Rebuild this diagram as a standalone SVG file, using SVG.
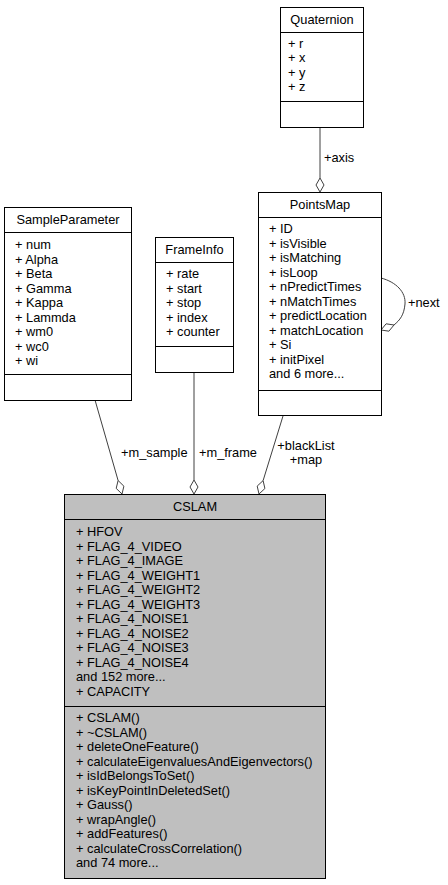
<svg xmlns="http://www.w3.org/2000/svg" width="448" height="885" viewBox="0 0 448 885">
<style>
text{font-family:"Liberation Sans",Arial,sans-serif;font-size:12.8px;fill:#000}
.box{fill:#fff;stroke:#000;stroke-width:1}
.main{fill:#bfbfbf;stroke:#000;stroke-width:1}
.sep{stroke:#000;stroke-width:1}
.edge{fill:none;stroke:#404040;stroke-width:1}
.dia{fill:#fff;stroke:#404040;stroke-width:1}
.c{text-anchor:middle}
</style>
<rect width="448" height="885" fill="#fff"/>
<g id="connectors">
<line class="edge" x1="320" y1="127" x2="320" y2="178"/>
<polygon class="dia" points="320,192 316,185 320,178 324,185"/>
<text x="324" y="162">+axis</text>
<line class="edge" x1="95" y1="400" x2="118.1" y2="480.5"/>
<polygon class="dia" points="122,494 123.9,486.2 118.1,480.5 116.2,488.4"/>
<text x="121" y="457">+m_sample</text>
<line class="edge" x1="194" y1="372" x2="194" y2="480"/>
<polygon class="dia" points="194,494 190,487 194,480 198,487"/>
<text x="199" y="457">+m_frame</text>
<line class="edge" x1="283" y1="416" x2="263.1" y2="480.6"/>
<polygon class="dia" points="259,494 257.2,486.1 263.1,480.6 264.9,488.5"/>
<text x="306" y="450" class="c">+blackList</text>
<text x="306" y="464" class="c">+map</text>
<path class="edge" d="M381,278 C396,282 406,292 405,304 C404,315 400,320 394,325"/>
<polygon class="dia" points="381,330 388.9,331.2 394,325 386.1,323.8"/>
<text x="408" y="307">+next</text>
</g>
<g id="Quaternion">
<rect class="box" x="280.5" y="7.5" width="83" height="120"/>
<line class="sep" x1="280.5" y1="32.5" x2="363.5" y2="32.5"/>
<line class="sep" x1="280.5" y1="101.5" x2="363.5" y2="101.5"/>
<text x="322" y="24" class="c">Quaternion</text>
<text x="288" y="48">+ r</text>
<text x="288" y="62">+ x</text>
<text x="288" y="77">+ y</text>
<text x="288" y="91">+ z</text>
</g>
<g id="SampleParameter">
<rect class="box" x="4.5" y="207.5" width="127" height="193"/>
<line class="sep" x1="4.5" y1="232.5" x2="131.5" y2="232.5"/>
<line class="sep" x1="4.5" y1="374.5" x2="131.5" y2="374.5"/>
<text x="68" y="224" class="c">SampleParameter</text>
<text x="15" y="249">+ num</text>
<text x="15" y="264">+ Alpha</text>
<text x="15" y="278">+ Beta</text>
<text x="15" y="293">+ Gamma</text>
<text x="15" y="307">+ Kappa</text>
<text x="15" y="322">+ Lammda</text>
<text x="15" y="336">+ wm0</text>
<text x="15" y="351">+ wc0</text>
<text x="15" y="365">+ wi</text>
</g>
<g id="FrameInfo">
<rect class="box" x="155.5" y="237.5" width="78" height="135"/>
<line class="sep" x1="155.5" y1="262.5" x2="233.5" y2="262.5"/>
<line class="sep" x1="155.5" y1="346.5" x2="233.5" y2="346.5"/>
<text x="194.5" y="254" class="c">FrameInfo</text>
<text x="166" y="278">+ rate</text>
<text x="166" y="293">+ start</text>
<text x="166" y="307">+ stop</text>
<text x="166" y="322">+ index</text>
<text x="166" y="336">+ counter</text>
</g>
<g id="PointsMap">
<rect class="box" x="258.5" y="192.5" width="123" height="223"/>
<line class="sep" x1="258.5" y1="217.5" x2="381.5" y2="217.5"/>
<line class="sep" x1="258.5" y1="390.5" x2="381.5" y2="390.5"/>
<text x="320" y="209" class="c">PointsMap</text>
<text x="269" y="233">+ ID</text>
<text x="269" y="248">+ isVisible</text>
<text x="269" y="262">+ isMatching</text>
<text x="269" y="277">+ isLoop</text>
<text x="269" y="291">+ nPredictTimes</text>
<text x="269" y="306">+ nMatchTimes</text>
<text x="269" y="320">+ predictLocation</text>
<text x="269" y="335">+ matchLocation</text>
<text x="269" y="349">+ Si</text>
<text x="269" y="364">+ initPixel</text>
<text x="269" y="378">and 6 more...</text>
</g>
<g id="CSLAM">
<rect class="main" x="64.5" y="494.5" width="261" height="384"/>
<line class="sep" x1="64.5" y1="519.5" x2="325.5" y2="519.5"/>
<line class="sep" x1="64.5" y1="706.5" x2="325.5" y2="706.5"/>
<text x="195" y="511" class="c">CSLAM</text>
<text x="76" y="536">+ HFOV</text>
<text x="76" y="551">+ FLAG_4_VIDEO</text>
<text x="76" y="565">+ FLAG_4_IMAGE</text>
<text x="76" y="580">+ FLAG_4_WEIGHT1</text>
<text x="76" y="594">+ FLAG_4_WEIGHT2</text>
<text x="76" y="609">+ FLAG_4_WEIGHT3</text>
<text x="76" y="623">+ FLAG_4_NOISE1</text>
<text x="76" y="638">+ FLAG_4_NOISE2</text>
<text x="76" y="652">+ FLAG_4_NOISE3</text>
<text x="76" y="667">+ FLAG_4_NOISE4</text>
<text x="76" y="681">and 152 more...</text>
<text x="76" y="696">+ CAPACITY</text>
<text x="76" y="722">+ CSLAM()</text>
<text x="76" y="737">+ ~CSLAM()</text>
<text x="76" y="751">+ deleteOneFeature()</text>
<text x="76" y="766">+ calculateEigenvaluesAndEigenvectors()</text>
<text x="76" y="780">+ isIdBelongsToSet()</text>
<text x="76" y="795">+ isKeyPointInDeletedSet()</text>
<text x="76" y="809">+ Gauss()</text>
<text x="76" y="824">+ wrapAngle()</text>
<text x="76" y="838">+ addFeatures()</text>
<text x="76" y="853">+ calculateCrossCorrelation()</text>
<text x="76" y="867">and 74 more...</text>
</g>
</svg>
